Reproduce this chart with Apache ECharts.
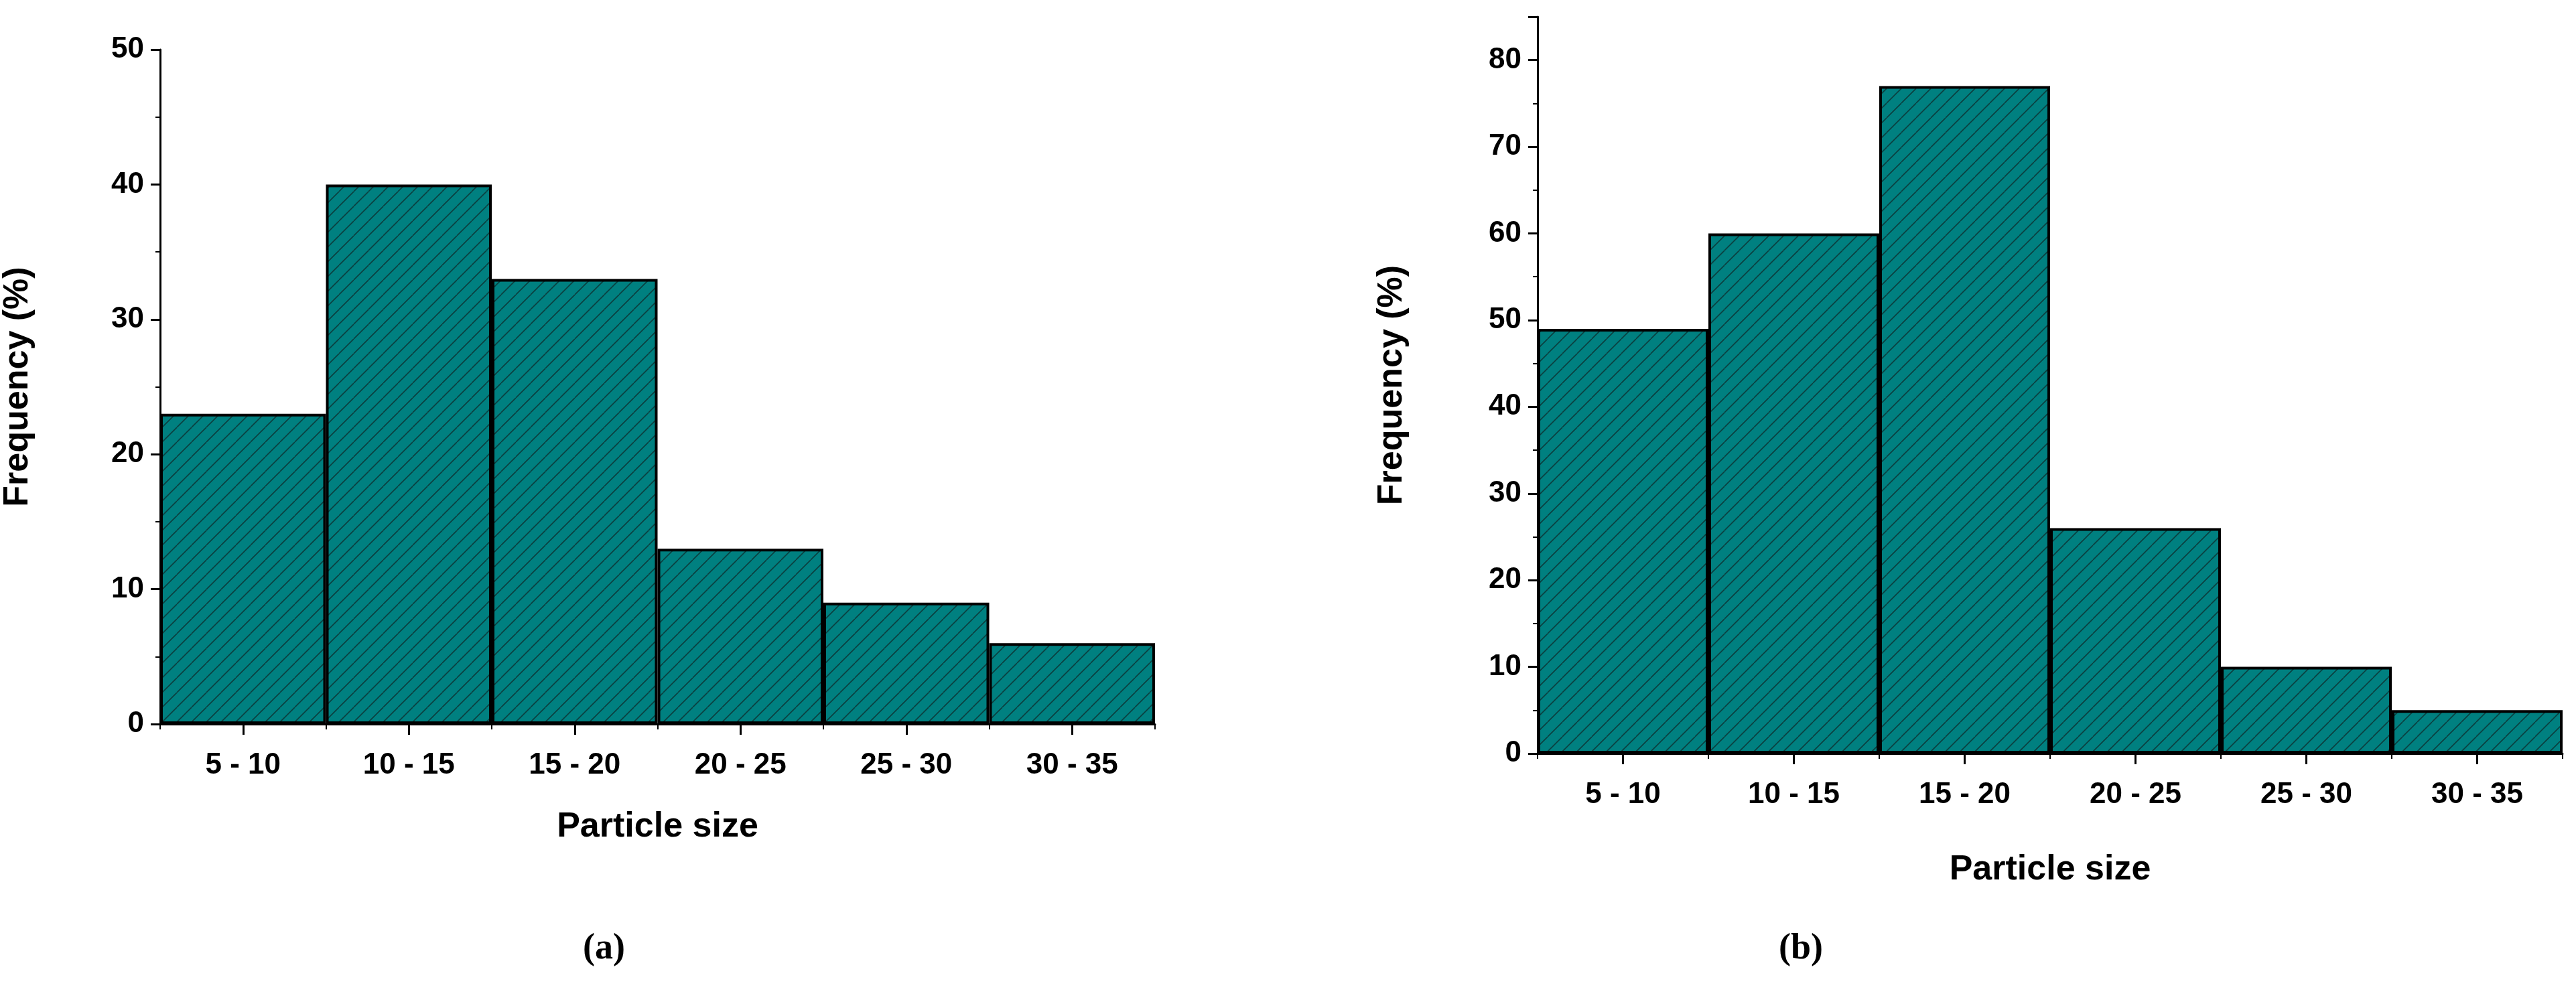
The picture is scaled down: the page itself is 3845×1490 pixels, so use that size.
<!DOCTYPE html>
<html>
<head>
<meta charset="utf-8">
<script src="https://cdn.jsdelivr.net/npm/echarts@6/dist/echarts.min.js"></script>
<style>
  html, body { margin: 0; padding: 0; background: #fff; }
  #chart { width: 3845px; height: 1490px; }
</style>
</head>
<body>
<div id="chart"></div>
<script>
    // data
    var sizeBins = ['5 - 10', '10 - 15', '15 - 20', '20 - 25', '25 - 30', '30 - 35'];
    var freqA = [23, 40, 33, 13, 9, 6];
    var freqB = [49, 60, 77, 26, 10, 5];

    // hatched teal fill
    var tile = document.createElement('canvas');
    tile.width = 22; tile.height = 22;
    var ctx = tile.getContext('2d');
    ctx.fillStyle = '#008080';
    ctx.fillRect(0, 0, 22, 22);
    ctx.strokeStyle = '#0b3f3f';
    ctx.lineWidth = 1.6;
    [[-22, 0], [0, 0], [22, 0]].forEach(function (o) {
        ctx.beginPath();
        ctx.moveTo(o[0], 22);
        ctx.lineTo(o[0] + 22, 0);
        ctx.stroke();
    });
    var hatch = { image: tile, repeat: 'repeat' };

    var font = 'Liberation Sans';
    var dom = document.getElementById('chart');
    var myChart = echarts.init(dom, null, { renderer: 'canvas' });

    function yAxisFor(idx, max, gap) {
        return {
            gridIndex: idx, type: 'value', min: 0, max: max, interval: 10,
            name: 'Frequency (%)', nameLocation: 'middle', nameGap: gap, nameRotate: 90,
            nameTextStyle: { fontFamily: font, fontWeight: 'bold', fontSize: 52, color: '#000' },
            axisLine: { show: true, lineStyle: { color: '#000', width: 3 } },
            axisTick: { show: true, length: 14, lineStyle: { color: '#000', width: 3 } },
            minorTick: { show: true, splitNumber: 2, length: 7, lineStyle: { color: '#000', width: 2 } },
            splitLine: { show: false },
            axisLabel: { fontFamily: font, fontWeight: 'bold', fontSize: 44, color: '#000', margin: 24, showMaxLabel: max % 10 === 0 }
        };
    }
    function xAxisFor(idx, gap) {
        return {
            gridIndex: idx, type: 'category', data: sizeBins, boundaryGap: true,
            name: 'Particle size', nameLocation: 'middle', nameGap: gap,
            nameTextStyle: { fontFamily: font, fontWeight: 'bold', fontSize: 52, color: '#000' },
            axisLine: { show: true, lineStyle: { color: '#000', width: 3 } },
            axisTick: { show: true, alignWithLabel: true, length: 16, lineStyle: { color: '#000', width: 3 } },
            axisLabel: { fontFamily: font, fontWeight: 'bold', fontSize: 44, color: '#000', margin: 40 }
        };
    }
    // second category axis only for the short boundary ticks
    function edgeAxisFor(idx) {
        return {
            gridIndex: idx, type: 'category', data: sizeBins, boundaryGap: true, position: 'bottom',
            axisLine: { show: false },
            axisTick: { show: true, length: 8, lineStyle: { color: '#000', width: 2 } },
            axisLabel: { show: false }
        };
    }
    function barsFor(idx, data) {
        return {
            type: 'bar', xAxisIndex: idx * 2, yAxisIndex: idx, data: data,
            barWidth: '100%', barCategoryGap: 0,
            itemStyle: { color: hatch, borderColor: '#000', borderWidth: 4 },
            silent: true
        };
    }

    var option = {
        backgroundColor: '#fff',
        animation: false,
        grid: [
            { left: 235, top: 74, width: 1489, height: 1007 },
            { left: 2295, top: 25, width: 1530, height: 1100 }
        ],
        xAxis: [xAxisFor(0, 128), edgeAxisFor(0), xAxisFor(1, 148), edgeAxisFor(1)],
        yAxis: [yAxisFor(0, 50, 186), yAxisFor(1, 85, 191)],
        series: [barsFor(0, freqA), barsFor(1, freqB)],
        graphic: [
            { type: 'text', left: 870, top: 1390, style: { text: '(a)', fontFamily: 'Liberation Serif', fontSize: 54, fontWeight: 'bold', fill: '#000' } },
            { type: 'text', left: 2655, top: 1390, style: { text: '(b)', fontFamily: 'Liberation Serif', fontSize: 54, fontWeight: 'bold', fill: '#000' } }
        ]
    };
    myChart.setOption(option);
    window.addEventListener('resize', myChart.resize);
</script>
</body>
</html>
